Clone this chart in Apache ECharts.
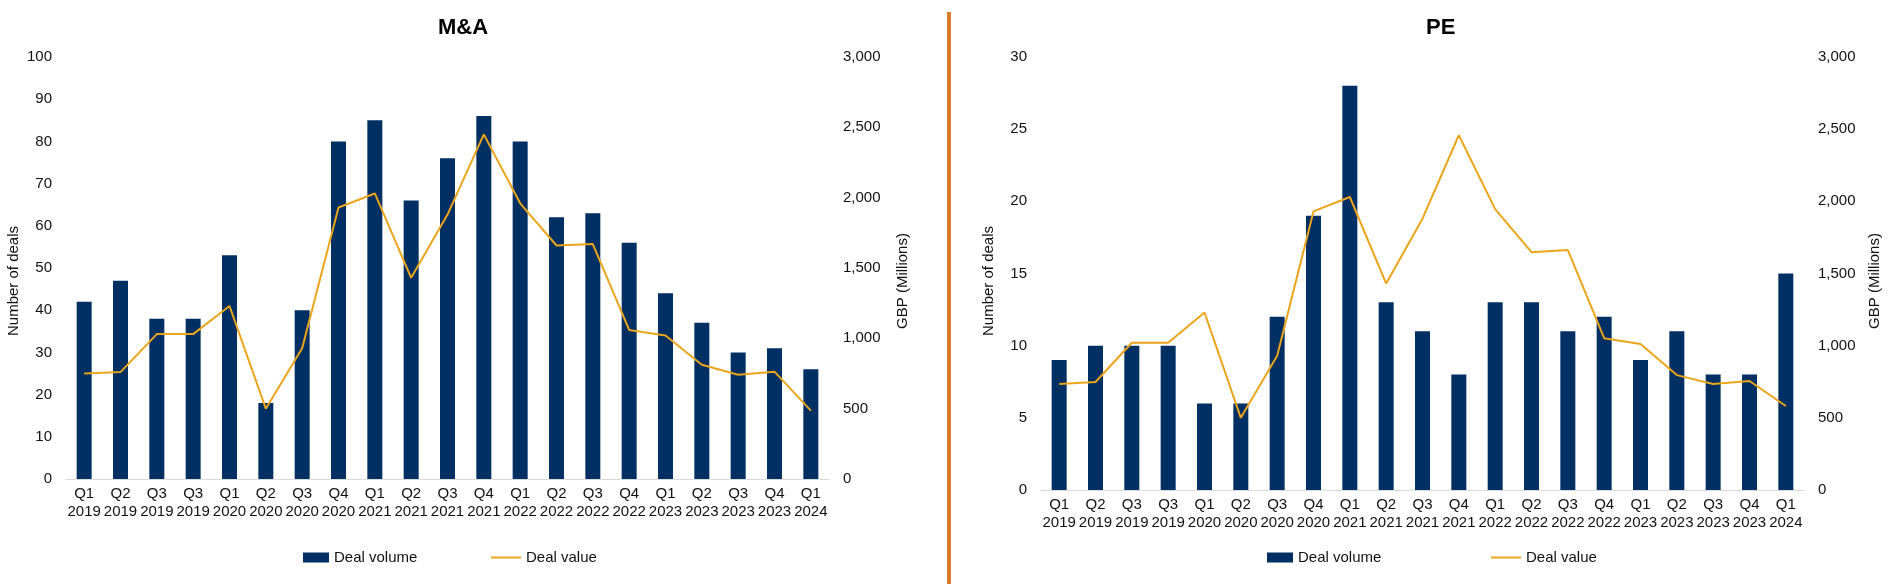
<!DOCTYPE html>
<html>
<head>
<meta charset="utf-8">
<script src="https://cdn.jsdelivr.net/npm/echarts@6/dist/echarts.min.js"></script>
<style>
html,body{margin:0;padding:0;background:#fff;}
#chart{width:1897px;height:586px;}
</style>
</head>
<body>
<div id="chart"></div>
<script>
const categories = ['Q1 2019','Q2 2019','Q3 2019','Q3 2019','Q1 2020','Q2 2020','Q3 2020','Q4 2020','Q1 2021','Q2 2021','Q3 2021','Q4 2021','Q1 2022','Q2 2022','Q3 2022','Q4 2022','Q1 2023','Q2 2023','Q3 2023','Q4 2023','Q1 2024'];
const maVolume = [42,47,38,38,53,18,40,80,85,66,76,86,80,62,63,56,44,37,30,31,26];
const maValue  = [750,760,1030,1030,1230,500,930,1930,2030,1430,1880,2450,1960,1660,1670,1060,1020,812,741,763,486];
const peVolume = [9,10,10,10,6,6,12,19,28,13,11,8,13,13,11,12,9,11,8,8,15];
const peValue  = [734,748,1020,1020,1230,500,930,1930,2030,1430,1880,2458,1946,1648,1662,1052,1011,796,734,755,582];
const maCountTicks = [0,100,10];
const peCountTicks = [0,30,5];
const gbpTicks = [0,3000,500];

const FONT = '"Liberation Sans", Arial, sans-serif';
const BAR = '#002F63';
const LINE = '#EAA51A';
const TXT = '#111';

const chart = echarts.init(document.getElementById('chart'));

function valAxis(gridIndex, ticks, position, fmt) {
  return {
    type: 'value', gridIndex: gridIndex, position: position,
    min: ticks[0], max: ticks[1], interval: ticks[2],
    splitLine: {show: false}, axisLine: {show: false}, axisTick: {show: false},
    axisLabel: {color: TXT, fontSize: 15, fontFamily: FONT, margin: 14,
      formatter: fmt || (v => v)}
  };
}
const commaFmt = v => v.toLocaleString('en-US');

function catAxis(gridIndex) {
  return {
    type: 'category', gridIndex: gridIndex, data: categories,
    axisTick: {show: false},
    axisLine: {show: true, lineStyle: {color: '#D9D9D9', width: 1}},
    axisLabel: {interval: 0, color: TXT, fontSize: 15, fontFamily: FONT, lineHeight: 18, margin: 6,
      formatter: v => v.replace(' ', '\n')}
  };
}

const legendText = {color: TXT, fontSize: 15, fontFamily: FONT};
function volLegend(left) {
  return {data: [{name: 'Deal volume', icon: 'rect'}], left: left, top: 545, itemWidth: 26, itemHeight: 10, textStyle: legendText, selectedMode: false};
}
function valLegend(left) {
  return {data: [{name: 'Deal value', icon: 'rect'}], left: left, top: 545, itemWidth: 30, itemHeight: 2, textStyle: legendText, selectedMode: false};
}

const option = {
  backgroundColor: '#fff',
  animation: false,
  title: [
    {text: 'M&A', left: 433, top: 12, textStyle: {fontSize: 22, fontWeight: 'bold', color: '#000', fontFamily: FONT}},
    {text: 'PE', left: 1421, top: 12, textStyle: {fontSize: 22, fontWeight: 'bold', color: '#000', fontFamily: FONT}}
  ],
  grid: [
    {left: 66, right: 1068, top: 57, bottom: 107},
    {left: 1041, right: 93, top: 57, bottom: 96}
  ],
  xAxis: [catAxis(0), catAxis(1)],
  yAxis: [
    valAxis(0, maCountTicks, 'left'),
    valAxis(0, gbpTicks, 'right', commaFmt),
    valAxis(1, peCountTicks, 'left'),
    valAxis(1, gbpTicks, 'right', commaFmt)
  ],
  legend: [volLegend(298), valLegend(486), volLegend(1262), valLegend(1486)],
  graphic: [
    {type: 'line', shape: {x1: 949, y1: 12, x2: 949, y2: 584}, style: {stroke: '#D97B2B', lineWidth: 4}},
    {type: 'text', x: 14, y: 281, rotation: Math.PI / 2, style: {text: 'Number of deals', fill: TXT, font: '15px ' + FONT, textAlign: 'center', textVerticalAlign: 'middle'}},
    {type: 'text', x: 903, y: 281, rotation: Math.PI / 2, style: {text: 'GBP (Millions)', fill: TXT, font: '15px ' + FONT, textAlign: 'center', textVerticalAlign: 'middle'}},
    {type: 'text', x: 989, y: 281, rotation: Math.PI / 2, style: {text: 'Number of deals', fill: TXT, font: '15px ' + FONT, textAlign: 'center', textVerticalAlign: 'middle'}},
    {type: 'text', x: 1875, y: 281, rotation: Math.PI / 2, style: {text: 'GBP (Millions)', fill: TXT, font: '15px ' + FONT, textAlign: 'center', textVerticalAlign: 'middle'}}
  ],
  series: [
    {name: 'Deal volume', type: 'bar', xAxisIndex: 0, yAxisIndex: 0, data: maVolume, barWidth: 15, itemStyle: {color: BAR}},
    {name: 'Deal value', type: 'line', xAxisIndex: 0, yAxisIndex: 1, data: maValue, symbol: 'none', lineStyle: {color: LINE, width: 2}, itemStyle: {color: LINE}},
    {name: 'Deal volume', type: 'bar', xAxisIndex: 1, yAxisIndex: 2, data: peVolume, barWidth: 15, itemStyle: {color: BAR}},
    {name: 'Deal value', type: 'line', xAxisIndex: 1, yAxisIndex: 3, data: peValue, symbol: 'none', lineStyle: {color: LINE, width: 2}, itemStyle: {color: LINE}}
  ]
};
chart.setOption(option);
</script>
</body>
</html>
